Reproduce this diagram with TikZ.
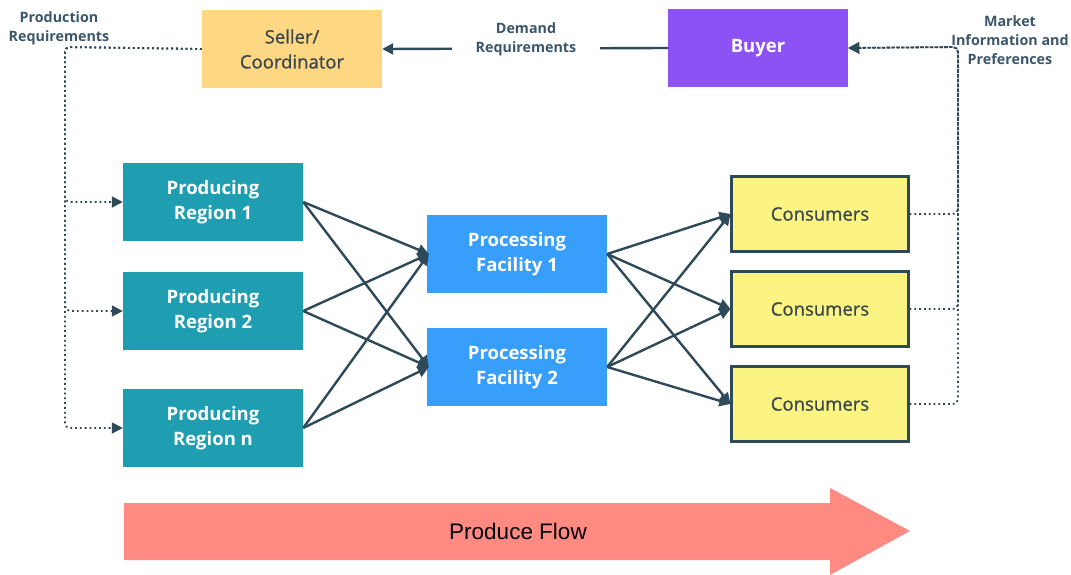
\documentclass[tikz,border=0pt]{standalone}
\usepackage{fontspec}
\setmainfont{Open Sans}
\newfontfamily\medfont{Open Sans}[FakeBold=0.9]
\newfontfamily\arialfont{Liberation Sans}
\usetikzlibrary{arrows.meta}
\definecolor{linec}{HTML}{2E4A58}
\definecolor{labelc}{HTML}{3B566A}
\definecolor{sellerc}{HTML}{FED782}
\definecolor{buyerc}{HTML}{8C52F4}
\definecolor{regionc}{HTML}{1F9EB1}
\definecolor{facilc}{HTML}{389EFB}
\definecolor{consc}{HTML}{FBF483}
\definecolor{flowc}{HTML}{FF8A82}
\definecolor{darktext}{HTML}{3A474D}
\tikzset{
  box/.style={minimum width=180pt, minimum height=78pt, inner sep=0pt, align=center,
    font=\fontsize{18.5}{25}\selectfont\bfseries},
  seller/.style={box, fill=sellerc, text=darktext, font=\fontsize{18.5}{25}\selectfont\medfont},
  buyer/.style={box, fill=buyerc, text=white},
  region/.style={box, fill=regionc, text=white},
  facility/.style={box, fill=facilc, text=white},
  consumer/.style={box, minimum width=177pt, minimum height=75pt, fill=consc, draw=linec,
    line width=2.2pt, text=darktext, font=\fontsize{18.5}{25}\selectfont\medfont},
  caption/.style={align=center, text=labelc, font=\fontsize{14.3}{19}\selectfont\bfseries},
  tip/.style={-{Triangle[length=11pt,width=11pt]}},
  flow/.style={tip, draw=linec, line width=2.4pt},
  infoline/.style={tip, draw=linec, line width=1.8pt, dash pattern=on 1.8pt off 3pt, rounded corners=5pt},
}
\begin{document}
\begin{tikzpicture}[x=1pt,y=-1pt]
\useasboundingbox (0,0) rectangle (1071,575);

% top row
\node[seller] (seller) at (292,49) {Seller/\\Coordinator};
\node[buyer] (buyer) at (758,48) {Buyer};

% producing regions
\node[region] (r1) at (213,202) {Producing\\Region 1};
\node[region] (r2) at (213,311) {Producing\\Region 2};
\node[region] (rn) at (213,428) {Producing\\Region n};

% processing facilities
\node[facility] (f1) at (517,254) {Processing\\Facility 1};
\node[facility] (f2) at (517,367) {Processing\\Facility 2};

% consumers
\node[consumer] (c1) at (820,214) {Consumers};
\node[consumer] (c2) at (820,309) {Consumers};
\node[consumer] (c3) at (820,404) {Consumers};

% demand requirements from buyer to seller
\draw[flow] (buyer.west) -- (seller.east);
\node[caption, fill=white, inner xsep=24pt, inner ysep=0pt] (dem) at (526,39) {Demand\\Requirements};

% production requirements from seller to regions
\coordinate (pl) at (65,47);
\foreach \r in {r1,r2,rn}
  \draw[infoline] (seller.west) -- (pl) |- (\r.west);
\node[caption] (prodreq) at (59,28) {Production\\Requirements};

% market information from consumers to buyer
\coordinate (mr) at (958,47);
\foreach \c in {c1,c2,c3}
  \draw[infoline] (\c.east) -| (mr) -- (buyer.east);
\node[caption] (mkt) at (1010,40) {Market\\Information and\\Preferences};

% produce moving regions -> facilities -> consumers
\foreach \r in {r1,r2,rn}
  \foreach \f in {f1,f2}
    \draw[flow] (\r.east) -- ([xshift=2pt]\f.west);
\foreach \f in {f1,f2}
  \foreach \c in {c1,c2,c3}
    \draw[flow] (\f.east) -- (\c.west);

% produce flow arrow
\fill[flowc] (124,503) -- (830,503) -- (830,488) -- (910,531) -- (830,575) -- (830,560) -- (124,560) -- cycle;
\node[font=\arialfont\fontsize{22.5}{26}\selectfont, text=black] (pflow) at (518,531) {Produce Flow};
\end{tikzpicture}
\end{document}
